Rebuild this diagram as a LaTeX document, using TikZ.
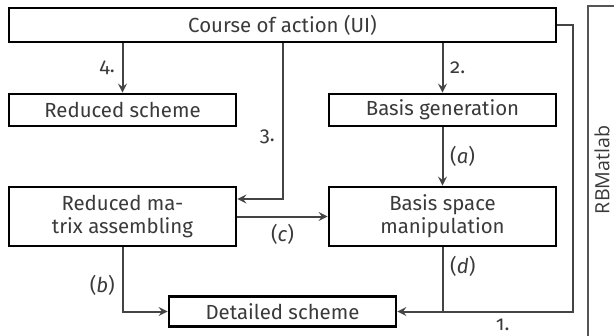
\documentclass[tikz,border=0pt]{standalone}
\usepackage{fontspec}
\setmainfont[Numbers=OldStyle]{Fira Sans}
\newfontfamily\rbfont{Open Sans}
\usetikzlibrary{positioning, calc, arrows}

\definecolor{textgray}{HTML}{3A3A3A}
\definecolor{linegray}{HTML}{444444}
\definecolor{framegray}{HTML}{555555}

\begin{document}
\begin{tikzpicture}[>=stealth, node distance=40pt, on grid, auto,
    block/.style={draw=black, line width=1.3pt, text=textgray, font=\fontsize{10.2}{11.5}\selectfont,
      minimum width=113.5pt, minimum height=16pt, inner sep=0pt, align=center},
    flow/.style={->, draw=linegray, line width=1pt},
    lbl/.style={text=textgray, font=\fontsize{10.2}{11.5}\selectfont}]
			\useasboundingbox (0,0) rectangle (307pt,-168pt);
			\node[block, minimum width=273.5pt, minimum height=17pt]	(course)		at (141.25pt,-12.5pt)	{Course of action (UI)};
			\node[block]								(rscheme)	[below left=42.5pt and 80pt of course]	{Reduced scheme};
			\node[block]								(bgen)		[right=160pt of rscheme]	{Basis generation};
			\node[block, minimum height=29.5pt]			(rmatrix)	[below=53.25pt of rscheme]	{Reduced ma-\\trix assembling};
			\node[block, minimum height=29.5pt]			(bspace)	[right=160pt of rmatrix]	{Basis space\\manipulation};
			\node[block, minimum height=15pt]			(detailed)	[below right=47.5pt and 80pt of rmatrix]	{Detailed scheme};
			\coordinate									(rbside)	at (286.5pt,0 |- detailed.east);

			% RBMatlab frame, runs on past the page edge
			\draw[framegray, line width=0.8pt] (307pt,-3pt) -- (294pt,-3pt) -- (294pt,-168pt);
			\node[text=textgray, rotate=90, font=\rbfont\fontsize{9.8}{11}\selectfont] (rbmatlab) at (301pt,-85pt) {RBMatlab};

			%Steps:
			\draw[flow] (course.south -| rscheme) -- node[lbl, swap] {4.} (rscheme);
			\draw[flow] (course.south -| bgen) -- node[lbl] {2.} (bgen);
			\draw[flow] (course.south) |- node[lbl, swap, pos=0.3] {3.} ([yshift=8.75pt]rmatrix.east);
			\draw[flow] (course.east) -| (rbside) -- node[lbl, pos=0.4] {1.} (detailed);

			%Inner flow:
			\draw[flow] (bgen) -- node[lbl] {(\textit{a})} (bspace);
			\draw[flow] (rmatrix) -- node[lbl, swap] {(\textit{c})} (bspace);
			\draw[flow] (rmatrix.south) |- node[lbl, swap, pos=0.3] {(\textit{b})} (detailed.west);
			\draw[linegray, line width=1pt] (bspace.south) -- node[lbl, pos=0.3] {(\textit{d})} (bspace.south |- detailed.east);
		\end{tikzpicture}
\end{document}
